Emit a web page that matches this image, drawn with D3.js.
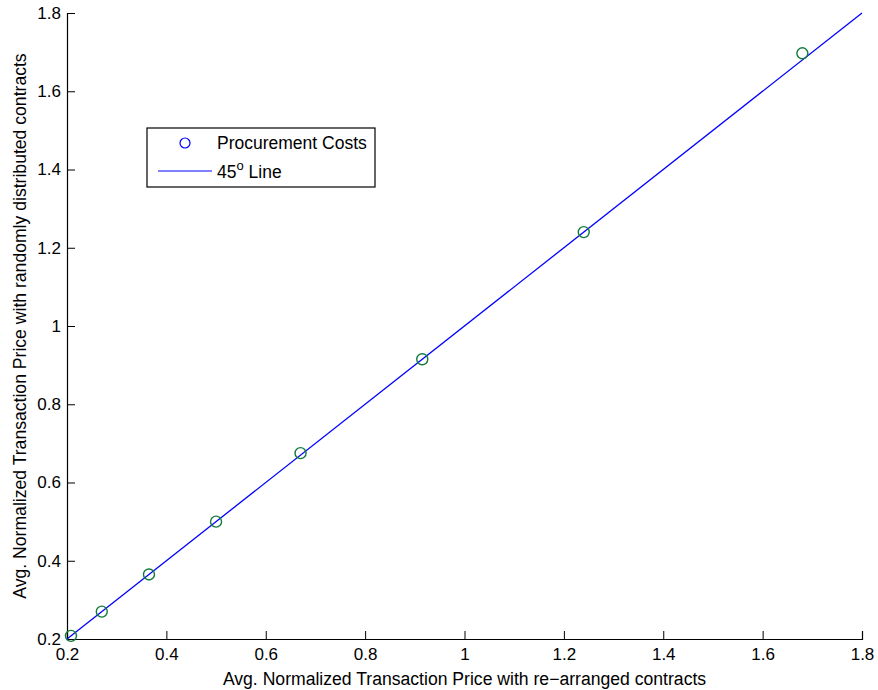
<!DOCTYPE html>
<html lang='en'>
  <head>
    <style type='text/css'>
      body {margin: 0; background-color: #fff;}
      text {font-family: "Liberation Sans", Arial, sans-serif; fill: #000;}
    </style>
  </head>
  <body>
    <svg id='chart' width='878' height='690'></svg>

    <script src='https://d3js.org/d3.v7.min.js'></script>
    <script type='text/javascript'>
        // data
        var xValues = [0.208, 0.27, 0.365, 0.5, 0.67, 0.915, 1.24, 1.68];
        var yValues = [0.208, 0.27, 0.365, 0.5, 0.675, 0.915, 1.24, 1.697];
        var lineEnds = [0.2, 1.8];
        var tickValues = [0.2, 0.4, 0.6, 0.8, 1, 1.2, 1.4, 1.6, 1.8];
        var seriesNames = ["Procurement Costs", "45", " Line"];

        var svg = d3.select("#chart");
        var margin = {top: 13, right: 16, bottom: 51, left: 67};
        var width = 878 - margin.left - margin.right;
        var height = 690 - margin.top - margin.bottom;

        var g = svg.append("g")
            .attr("transform", "translate(" + margin.left + "," + margin.top + ")");

        var x = d3.scaleLinear().domain([0.2, 1.8]).range([0, width]);
        var y = d3.scaleLinear().domain([0.2, 1.8]).range([height, 0]);

        // axes, ticks pointing inside like matlab
        var xAxis = g.append("g")
            .attr("transform", "translate(0," + height + ")")
            .call(d3.axisBottom(x).tickValues(tickValues).tickSize(-8).tickPadding(9)
                .tickFormat(function(d) { return d3.format("~g")(d); }));
        var yAxis = g.append("g")
            .call(d3.axisLeft(y).tickValues(tickValues).tickSize(-8).tickPadding(6)
                .tickFormat(function(d) { return d3.format("~g")(d); }));

        [xAxis, yAxis].forEach(function(a) {
          a.selectAll("path").attr("stroke", "#000").attr("stroke-width", 1.2);
          a.selectAll("line").attr("stroke", "#000").attr("stroke-width", 1);
          a.selectAll("text").style("font-size", "17px").style("font-family", "'Liberation Sans', Arial, sans-serif");
        });

        // 45 degree line
        g.append("line")
            .attr("x1", x(lineEnds[0])).attr("y1", y(lineEnds[0]))
            .attr("x2", x(lineEnds[1])).attr("y2", y(lineEnds[1]))
            .attr("stroke", "#0000ff")
            .attr("stroke-width", 1.3);

        // scatter points
        g.selectAll("circle.pt").data(xValues)
          .enter().append("circle")
            .attr("class", "pt")
            .attr("cx", function(d) { return x(d); })
            .attr("cy", function(d, i) { return y(yValues[i]); })
            .attr("r", 5.5)
            .attr("fill", "none")
            .attr("stroke", "#137a3c")
            .attr("stroke-width", 1.4);

        // axis titles
        svg.append("text")
            .attr("x", margin.left + width / 2)
            .attr("y", 685)
            .style("font-size", "17.6px")
            .style("text-anchor", "middle")
            .text("Avg. Normalized Transaction Price with re\u2212arranged contracts");

        svg.append("text")
            .attr("transform", "translate(26," + (margin.top + height / 2) + ") rotate(-90)")
            .style("font-size", "17.6px")
            .style("text-anchor", "middle")
            .text("Avg. Normalized Transaction Price with randomly distributed contracts");

        // legend
        var legend = svg.append("g");
        legend.append("rect")
            .attr("x", 147).attr("y", 128)
            .attr("width", 228).attr("height", 59)
            .attr("fill", "#fff")
            .attr("stroke", "#000")
            .attr("stroke-width", 1.2);
        legend.append("circle")
            .attr("cx", 185).attr("cy", 143)
            .attr("r", 5)
            .attr("fill", "none")
            .attr("stroke", "#0000ff")
            .attr("stroke-width", 1.2);
        legend.append("text")
            .attr("x", 217).attr("y", 149)
            .style("font-size", "17.5px")
            .text(seriesNames[0]);
        legend.append("line")
            .attr("x1", 158).attr("x2", 212)
            .attr("y1", 171).attr("y2", 171)
            .attr("stroke", "#0000ff")
            .attr("stroke-width", 1);
        var t2 = legend.append("text")
            .attr("x", 217).attr("y", 178)
            .style("font-size", "17.5px");
        t2.append("tspan").text(seriesNames[1]);
        t2.append("tspan").attr("dy", -8).style("font-size", "13px").text("o");
        t2.append("tspan").attr("dy", 8).text(seriesNames[2]);
    </script>
  </body>
</html>
